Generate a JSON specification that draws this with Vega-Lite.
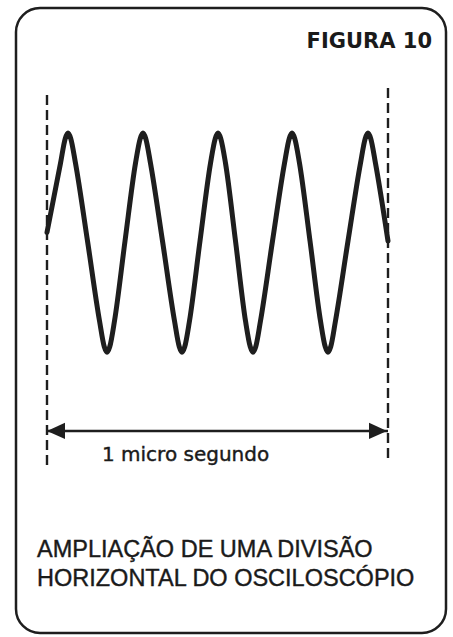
{
  "$schema": "https://vega.github.io/schema/vega-lite/v6.json",
  "autosize": {"type": "none"},
  "padding": {"left": 16, "top": 8, "right": 7, "bottom": 4},
  "width": 430,
  "height": 625,
  "background": "white",
  "config": {
    "view": {"stroke": "#1e1e1e", "strokeWidth": 2.5, "cornerRadius": 24, "fill": "white"}
  },
  "datasets": {
    "wave": [
      {"t": 0, "v": 0.08}, {"t": 0.0396, "v": 0.72}, {"t": 0.0536, "v": 0.95}, {"t": 0.0616, "v": 1.0}, {"t": 0.0696, "v": 0.95}, {"t": 0.0836, "v": 0.72},
      {"t": 0.1188, "v": 0},
      {"t": 0.154, "v": -0.74}, {"t": 0.168, "v": -0.98}, {"t": 0.176, "v": -1.03}, {"t": 0.184, "v": -0.98}, {"t": 0.198, "v": -0.74},
      {"t": 0.2288, "v": 0},
      {"t": 0.2595, "v": 0.72}, {"t": 0.2735, "v": 0.95}, {"t": 0.2815, "v": 1.0}, {"t": 0.2895, "v": 0.95}, {"t": 0.3035, "v": 0.72},
      {"t": 0.3387, "v": 0},
      {"t": 0.3739, "v": -0.74}, {"t": 0.3879, "v": -0.98}, {"t": 0.3959, "v": -1.03}, {"t": 0.4039, "v": -0.98}, {"t": 0.4179, "v": -0.74},
      {"t": 0.4487, "v": 0},
      {"t": 0.4795, "v": 0.72}, {"t": 0.4935, "v": 0.95}, {"t": 0.5015, "v": 1.0}, {"t": 0.5095, "v": 0.95}, {"t": 0.5235, "v": 0.72},
      {"t": 0.5528, "v": 0},
      {"t": 0.5821, "v": -0.74}, {"t": 0.5961, "v": -0.98}, {"t": 0.6041, "v": -1.03}, {"t": 0.6121, "v": -0.98}, {"t": 0.6261, "v": -0.74},
      {"t": 0.6613, "v": 0},
      {"t": 0.6965, "v": 0.72}, {"t": 0.7105, "v": 0.95}, {"t": 0.7185, "v": 1.0}, {"t": 0.7265, "v": 0.95}, {"t": 0.7405, "v": 0.72},
      {"t": 0.7713, "v": 0},
      {"t": 0.802, "v": -0.74}, {"t": 0.816, "v": -0.98}, {"t": 0.824, "v": -1.03}, {"t": 0.832, "v": -0.98}, {"t": 0.846, "v": -0.74},
      {"t": 0.8827, "v": 0},
      {"t": 0.9193, "v": 0.72}, {"t": 0.9333, "v": 0.95}, {"t": 0.9413, "v": 1.0}, {"t": 0.9493, "v": 0.95}, {"t": 0.9633, "v": 0.72},
      {"t": 1.0, "v": 0}
    ],
    "guides": [
      {"t": 0, "v": 1.352, "v2": -2.12},
      {"t": 1, "v": 1.417, "v2": -2.046}
    ],
    "span": [
      {"t": 0, "t2": 1, "v": -1.759}
    ],
    "heads": [
      {"t": 0.0264, "v": -1.759, "dir": "left"},
      {"t": 0.9707, "v": -1.759, "dir": "right"}
    ],
    "title": [
      {"t": 1.129, "v": 1.787, "label": "FIGURA 10"}
    ],
    "unit": [
      {"t": 0.1613, "v": -2.037, "label": "1 micro segundo"}
    ],
    "caption": [
      {"t": -0.0293, "v": -2.926, "label": "AMPLIAÇÃO DE UMA DIVISÃO"},
      {"t": -0.0293, "v": -3.194, "label": "HORIZONTAL DO OSCILOSCÓPIO"}
    ]
  },
  "encoding": {
    "x": {"field": "t", "type": "quantitative", "axis": null, "scale": {"domain": [-0.09091, 1.17009], "nice": false, "zero": false}},
    "y": {"field": "v", "type": "quantitative", "axis": null, "scale": {"domain": [-3.62963, 2.15741], "nice": false, "zero": false}}
  },
  "layer": [
    {
      "data": {"name": "guides"},
      "mark": {"type": "rule", "color": "#1e1e1e", "strokeWidth": 2.4, "strokeDash": [10, 5]},
      "encoding": {"y2": {"field": "v2"}}
    },
    {
      "data": {"name": "wave"},
      "mark": {"type": "line", "color": "#1e1e1e", "strokeWidth": 5, "interpolate": "monotone", "strokeCap": "round", "strokeJoin": "round"},
      "encoding": {"order": {"field": "t", "type": "quantitative"}}
    },
    {
      "data": {"name": "span"},
      "mark": {"type": "rule", "color": "#1e1e1e", "strokeWidth": 2.5},
      "encoding": {"x2": {"field": "t2"}}
    },
    {
      "data": {"name": "heads"},
      "mark": {"type": "point", "filled": true, "size": 324, "color": "#1e1e1e", "opacity": 1},
      "encoding": {
        "shape": {"field": "dir", "type": "nominal", "legend": null, "scale": {"domain": ["left", "right"], "range": ["M-1,0L1,-0.9L1,0.9Z", "M1,0L-1,-0.9L-1,0.9Z"]}}
      }
    },
    {
      "data": {"name": "title"},
      "mark": {"type": "text", "font": "DejaVu Sans", "fontWeight": "bold", "fontSize": 21, "align": "right", "baseline": "alphabetic", "color": "#1a1a1a"},
      "encoding": {"text": {"field": "label"}}
    },
    {
      "data": {"name": "unit"},
      "mark": {"type": "text", "font": "DejaVu Sans", "fontSize": 20, "align": "left", "baseline": "alphabetic", "color": "#1a1a1a", "stroke": "#1a1a1a", "strokeWidth": 0.4},
      "encoding": {"text": {"field": "label"}}
    },
    {
      "data": {"name": "caption"},
      "mark": {"type": "text", "font": "Liberation Sans", "fontSize": 23.5, "align": "left", "baseline": "alphabetic", "color": "#1a1a1a", "stroke": "#1a1a1a", "strokeWidth": 0.4},
      "encoding": {"text": {"field": "label"}}
    }
  ]
}
